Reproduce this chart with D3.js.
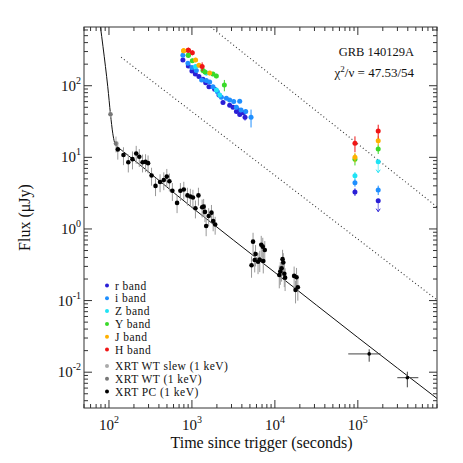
<!DOCTYPE html>
<html><head><meta charset="utf-8">
<script src="https://cdn.jsdelivr.net/npm/d3@7"></script>
<style>
html,body{margin:0;padding:0;background:#fff;}
text{font-family:"Liberation Serif","DejaVu Serif",serif;fill:#111;}
</style></head>
<body><svg id="chart" width="463" height="463"></svg>
<script>
// ---------- DATA ----------
const xTickVals = [1e2, 1e3, 1e4, 1e5];
const xTickExp = ["2", "3", "4", "5"];
const yTickVals = [1e-2, 1e-1, 1e0, 1e1, 1e2];
const yTickExp = ["-2", "-1", "0", "1", "2"];

// optical / NIR bands (time s, flux uJy, relative error)
const rT = [778, 905, 1000, 1099, 1215, 1359, 1464, 1605, 1879, 2118, 2368, 2852, 3128, 3436, 3631, 3767, 4130, 4365, 92300];
const rF = [229, 189, 161, 146, 134, 123, 110, 97, 89.4, 74.4, 58.1, 53.4, 50.1, 43.5, 45.9, 39.5, 42.1, 36.3, 3.29];
const rE = [0.06, 0.06, 0.06, 0.06, 0.06, 0.06, 0.06, 0.06, 0.06, 0.06, 0.06, 0.06, 0.06, 0.06, 0.06, 0.06, 0.06, 0.1, 0.12];
const rUlT = [176000];
const rUlF = [2.48];

const iT = [778, 895, 1000, 1130, 1309, 1493, 1636, 1793, 2027, 2265, 2603, 2852, 3189, 3767, 3436, 3907, 4452, 5160, 92300, 176000];
const iF = [267, 206, 179, 163, 120.5, 118, 113, 97, 82.7, 69.1, 66.9, 63.3, 60.0, 60.8, 50.1, 45.9, 43.5, 36.3, 4.43, 3.5];
const iE = [0.06, 0.06, 0.06, 0.06, 0.06, 0.06, 0.06, 0.06, 0.06, 0.06, 0.06, 0.06, 0.06, 0.06, 0.06, 0.06, 0.08, 0.28, 0.12, 0.15];

const zT = [1108, 1493, 1971, 2160, 92300];
const zF = [185, 150, 87.4, 74.4, 5.55];
const zE = [0.07, 0.07, 0.07, 0.07, 0.12];
const zUlT = [176000];
const zUlF = [8.7];

const yT = [905, 1011, 1359, 1436, 1793, 1971, 2461, 92300, 176000];
const yF = [267, 224, 163, 156, 146, 137, 102, 9.4, 13.1];
const yE = [0.07, 0.07, 0.07, 0.07, 0.07, 0.07, 0.18, 0.18, 0.15];

const jT = [794, 1108, 1215, 1636, 92300, 176000];
const jF = [309, 229, 193, 150, 10.0, 17.1];
const jE = [0.07, 0.07, 0.07, 0.07, 0.15, 0.15];

const hT = [905, 1011, 1328, 92300, 176000];
const hF = [313, 289, 186, 15.7, 23.4];
const hE = [0.08, 0.08, 0.14, 0.25, 0.22];

// X-ray (1 keV) flux densities
const xrtWtT = [104.3, 121.5];
const xrtWtF = [40.0, 15.6];
const xrtWtE = [0.1, 0.25];

const xrtPcT = [127.8, 149.6, 171, 192, 213, 232, 254, 276, 296, 326, 364, 413, 458, 498, 535, 581, 662, 726, 798, 883, 957, 1028, 1102, 1198, 1328, 1384, 1435, 1484, 1591, 1720, 1803, 1906,
  5455, 5848, 5232, 5716, 6266, 6570, 6849, 7145, 7554, 7244,
  12380, 12630, 12050, 11620, 11300, 12990, 13280,
  17060, 18240, 18910, 17740];
const xrtPcF = [12.9, 10.8, 8.54, 9.44, 11.3, 10.2, 8.54, 8.63, 8.30, 5.59, 3.99, 4.53, 4.83, 5.38, 4.64, 3.42, 2.31, 3.42, 3.56, 2.94, 2.84, 2.75, 1.95, 2.94, 2.01, 2.05, 1.73, 1.10, 1.52, 1.69, 1.29, 1.155,
  0.665, 0.448, 0.311, 0.369, 0.349, 0.3725, 0.602, 0.566, 0.509, 0.357,
  0.379, 0.340, 0.283, 0.255, 0.228, 0.237, 0.209,
  0.221, 0.2115, 0.1534, 0.1406];
const xrtPcE = [0.28, 0.28, 0.28, 0.28, 0.28, 0.28, 0.28, 0.28, 0.28, 0.28, 0.28, 0.28, 0.28, 0.28, 0.28, 0.28, 0.28, 0.28, 0.28, 0.28, 0.28, 0.28, 0.28, 0.28, 0.28, 0.28, 0.28, 0.28, 0.28, 0.28, 0.28, 0.28,
  0.33, 0.33, 0.33, 0.33, 0.33, 0.33, 0.33, 0.33, 0.33, 0.33,
  0.35, 0.35, 0.35, 0.35, 0.35, 0.35, 0.35,
  0.35, 0.35, 0.35, 0.35];

const xrtLateT = [137000, 395000];
const xrtLateF = [0.0180, 0.00838];
const xrtLateTLo = [76600, 299000];
const xrtLateTHi = [188000, 536000];
const xrtLateFLo = [0.0140, 0.00615];
const xrtLateFHi = [0.0209, 0.01016];

// fitted model (solid) and reference lines (dotted)
const modelT = [79, 90.7, 96.7, 104.3, 111.1, 116.5, 122.2, 130, 140.3, 1000, 10000, 100000, 900000];
const modelF = [660, 185, 97, 40.0, 21.7, 16.3, 14.6, 13.6, 12.7, 2.0, 0.247, 0.0305, 0.0043];
const dotLoT = [140, 900000];
const dotLoF = [250, 0.102];
const dotHiT = [1683, 900000];
const dotHiF = [662, 2.03];

const legendLabels = ["r band", "i band", "Z band", "Y band", "J band", "H band", "XRT WT slew (1 keV)", "XRT WT (1 keV)", "XRT PC (1 keV)"];
const legendColors = ["#2a1fd6", "#1f8fff", "#1fe3f5", "#3ada2a", "#ffb000", "#f01515", "#aaaaaa", "#777777", "#000000"];

// ---------- CHART ----------
const svg = d3.select("#chart");
const L = 84, R = 437, T = 27, B = 408;
const x = d3.scaleLog().domain([50, 9e5]).range([L, R]);
const y = d3.scaleLog().domain([Math.pow(10, -2.5), Math.pow(10, 2.82)]).range([B, T]);

svg.append("defs").append("clipPath").attr("id", "clip")
  .append("rect").attr("x", L).attr("y", T).attr("width", R - L).attr("height", B - T);

const plot = svg.append("g").attr("clip-path", "url(#clip)");

// lines
const lineGen = d3.line().x(d => x(d[0])).y(d => y(d[1])).curve(d3.curveMonotoneX);
plot.append("path").datum(modelT.map((t, i) => [t, modelF[i]]))
  .attr("d", lineGen).attr("fill", "none").attr("stroke", "#111").attr("stroke-width", 1);
const straight = d3.line().x(d => x(d[0])).y(d => y(d[1]));
[[dotLoT, dotLoF], [dotHiT, dotHiF]].forEach(([tt, ff]) => {
  plot.append("path").datum(tt.map((t, i) => [t, ff[i]]))
    .attr("d", straight).attr("fill", "none").attr("stroke", "#333")
    .attr("stroke-width", 1.1).attr("stroke-dasharray", "1,2.6");
});

// helpers
function drawSeries(tt, ff, ee, color, r, barColor, barW) {
  const g = plot.append("g");
  const data = tt.map((t, i) => ({t, f: ff[i], e: ee[i]}));
  g.selectAll("line.eb").data(data).enter().append("line")
    .attr("x1", d => x(d.t)).attr("x2", d => x(d.t))
    .attr("y1", d => y(d.f * (1 - d.e))).attr("y2", d => y(d.f * (1 + d.e)))
    .attr("stroke", barColor).attr("stroke-width", barW);
  g.selectAll("circle").data(data).enter().append("circle")
    .attr("cx", d => x(d.t)).attr("cy", d => y(d.f)).attr("r", r).attr("fill", color);
}
function drawUL(tt, ff, color) {
  const g = plot.append("g");
  tt.forEach((t, i) => {
    const cx = x(t), cy = y(ff[i]);
    g.append("line").attr("x1", cx).attr("x2", cx).attr("y1", cy).attr("y2", cy + 11)
      .attr("stroke", color).attr("stroke-opacity", 0.6).attr("stroke-width", 1);
    g.append("path").attr("d", `M${cx - 2},${cy + 8} L${cx},${cy + 11} L${cx + 2},${cy + 8}`)
      .attr("fill", "none").attr("stroke", color).attr("stroke-width", 1);
    g.append("circle").attr("cx", cx).attr("cy", cy).attr("r", 2.5).attr("fill", color);
  });
}

// X-ray
drawSeries(xrtWtT, xrtWtF, xrtWtE, "#777", 2.3, "#aaa", 1);
drawSeries(xrtPcT, xrtPcF, xrtPcE, "#000", 2.3, "#999", 1);
const late = plot.append("g");
xrtLateT.forEach((t, i) => {
  late.append("line").attr("x1", x(xrtLateTLo[i])).attr("x2", x(xrtLateTHi[i]))
    .attr("y1", y(xrtLateF[i])).attr("y2", y(xrtLateF[i])).attr("stroke", "#444").attr("stroke-width", 1);
  late.append("line").attr("x1", x(t)).attr("x2", x(t))
    .attr("y1", y(xrtLateFLo[i])).attr("y2", y(xrtLateFHi[i])).attr("stroke", "#444").attr("stroke-width", 1);
  late.append("circle").attr("cx", x(t)).attr("cy", y(xrtLateF[i])).attr("r", 1.8).attr("fill", "#000");
});

// optical
const bands = [[rT, rF, rE], [iT, iF, iE], [zT, zF, zE], [yT, yF, yE], [jT, jF, jE], [hT, hF, hE]];
bands.forEach((b, k) => drawSeries(b[0], b[1], b[2], legendColors[k], 2.5, legendColors[k], 1));
drawUL(rUlT, rUlF, legendColors[0]);
drawUL(zUlT, zUlF, legendColors[2]);
[5, 4, 3].forEach(k => drawSeries(bands[k][0].slice(0, 1), bands[k][1].slice(0, 1), bands[k][2].slice(0, 1), legendColors[k], 2.5, legendColors[k], 1));

// ---------- AXES ----------
const ax = svg.append("g").attr("stroke", "#333").attr("stroke-width", 1);
ax.append("rect").attr("x", L).attr("y", T).attr("width", R - L).attr("height", B - T).attr("fill", "none");

function minorTicks(lo, hi) {
  const out = [];
  for (let e = Math.floor(Math.log10(lo)); e <= Math.ceil(Math.log10(hi)); e++) {
    for (let m = 1; m <= 9; m++) {
      const v = m * Math.pow(10, e);
      if (v >= lo && v <= hi) out.push({v, major: m === 1});
    }
  }
  return out;
}
minorTicks(50, 9e5).forEach(d => {
  const px = x(d.v), len = d.major ? 8 : 4;
  ax.append("line").attr("x1", px).attr("x2", px).attr("y1", B).attr("y2", B - len);
  ax.append("line").attr("x1", px).attr("x2", px).attr("y1", T).attr("y2", T + len);
});
minorTicks(Math.pow(10, -2.5), Math.pow(10, 2.82)).forEach(d => {
  const py = y(d.v), len = d.major ? 8 : 4;
  ax.append("line").attr("x1", L).attr("x2", L + len).attr("y1", py).attr("y2", py);
  ax.append("line").attr("x1", R).attr("x2", R - len).attr("y1", py).attr("y2", py);
});

// tick labels
xTickVals.forEach((v, i) => {
  const t = svg.append("text").attr("x", x(v)).attr("y", 430).attr("text-anchor", "middle").attr("font-size", 15);
  t.append("tspan").text("10");
  t.append("tspan").attr("dy", -7).attr("font-size", 10).text(xTickExp[i]);
});
yTickVals.forEach((v, i) => {
  const t = svg.append("text").attr("x", 81).attr("y", y(v) + 5).attr("text-anchor", "end").attr("font-size", 15);
  t.append("tspan").text("10");
  t.append("tspan").attr("dy", -7).attr("font-size", 10).text(yTickExp[i]);
});

// axis titles
svg.append("text").attr("x", 261.5).attr("y", 448).attr("text-anchor", "middle")
  .attr("font-size", 16).text("Time since trigger (seconds)");
svg.append("text").attr("transform", `translate(30,${(T + B) / 2}) rotate(-90)`)
  .attr("text-anchor", "middle").attr("font-size", 16).text("Flux (μJy)");

// annotation
svg.append("text").attr("x", 414).attr("y", 56).attr("text-anchor", "end").attr("font-size", 12.5).text("GRB 140129A");
const chi = svg.append("text").attr("x", 414).attr("y", 77).attr("text-anchor", "end").attr("font-size", 13);
chi.append("tspan").text("χ");
chi.append("tspan").attr("dy", -5).attr("font-size", 9).text("2");
chi.append("tspan").attr("dy", 5).text("/ν = 47.53/54");

// legend
const legY = [285.5, 298.3, 311.1, 323.9, 336.7, 349.5, 366, 378.8, 391.6];
legendLabels.forEach((lab, i) => {
  svg.append("circle").attr("cx", 107).attr("cy", legY[i]).attr("r", 2).attr("fill", legendColors[i]);
  svg.append("text").attr("x", 115).attr("y", legY[i] + 4).attr("font-size", 11.5)
    .attr("letter-spacing", 0.45).text(lab);
});
</script></body></html>
